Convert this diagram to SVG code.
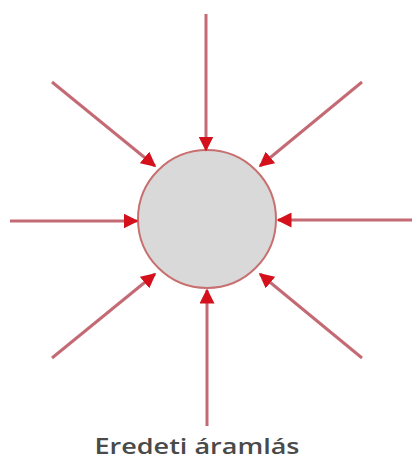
<svg xmlns="http://www.w3.org/2000/svg" width="412" height="465" viewBox="0 0 412 465">
<style>
.c{stroke:#c46a74;stroke-width:3;fill:none;marker-end:url(#ah)}
.lbl{font-family:"Open Sans","Liberation Sans",sans-serif;font-size:22px;font-weight:600;fill:#4a4a4a}
</style>
<defs>
<marker id="ah" viewBox="0 0 10 10" refX="9" refY="5" markerWidth="5" markerHeight="5" orient="auto" markerUnits="strokeWidth">
<path d="M0,0 L10,5 L0,10 z" fill="#d4101c"/>
</marker>
</defs>
<rect width="412" height="465" fill="#fff"/>
<g id="circle">
<circle cx="207" cy="219" r="69" fill="#d9d9d9" stroke="#c87070" stroke-width="2"/>
</g>
<g id="connectors">
<line class="c" x1="206" y1="14" x2="206" y2="150"/>
<line class="c" x1="207" y1="426" x2="207" y2="290"/>
<line class="c" x1="10" y1="221" x2="137" y2="221"/>
<line class="c" x1="412" y1="220" x2="278" y2="220"/>
<line class="c" x1="52" y1="82" x2="155" y2="166"/>
<line class="c" x1="362" y1="82" x2="260" y2="166"/>
<line class="c" x1="52" y1="358" x2="155" y2="274"/>
<line class="c" x1="362" y1="358" x2="260" y2="274"/>
</g>
<g id="label">
<text class="lbl" x="197" y="454" text-anchor="middle" textLength="205" lengthAdjust="spacingAndGlyphs">Eredeti áramlás</text>
</g>
</svg>
